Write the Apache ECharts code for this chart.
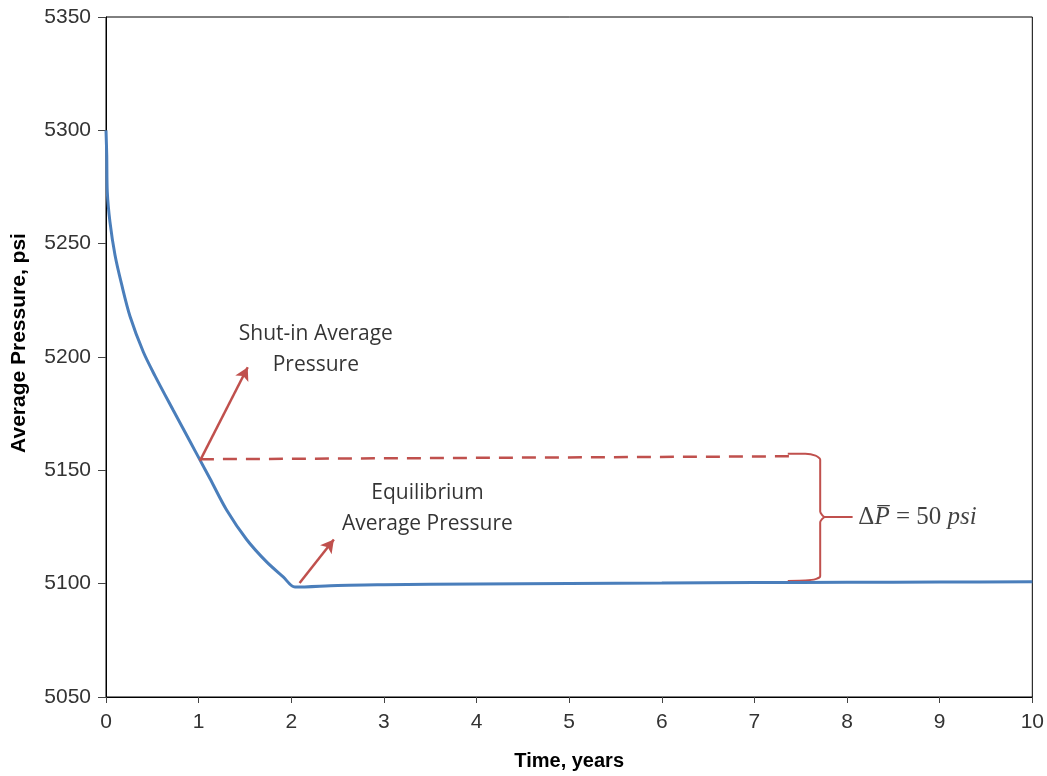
<!DOCTYPE html>
<html>
<head>
<meta charset="utf-8">
<script src="https://cdn.jsdelivr.net/npm/echarts@6/dist/echarts.min.js"></script>
<style>
  html, body { margin: 0; padding: 0; background: #fff; }
  #chart { width: 1047px; height: 776px; }
</style>
</head>
<body>
<div id="chart"></div>
<script>
// Average reservoir pressure over time
const timeYears = [0, 0.008, 0.014, 0.043, 0.097, 0.169, 0.259, 0.402, 0.529, 0.726, 0.906, 1.014, 1.122, 1.302, 1.518, 1.734, 1.913, 2.04, 2.5, 3, 4, 5, 6, 7, 8, 9, 10];
const avgPressure = [5300, 5289, 5272.8, 5259.5, 5245, 5232, 5218, 5202.3, 5191.7, 5176.5, 5162.8, 5154.6, 5146.4, 5132.5, 5119.5, 5109.6, 5103, 5098.5, 5099.2, 5099.5, 5099.9, 5100.1, 5100.3, 5100.5, 5100.6, 5100.7, 5100.8];

// Axis ranges / ticks
const yTicks = [5050, 5100, 5150, 5200, 5250, 5300, 5350];
const xTicks = [0, 1, 2, 3, 4, 5, 6, 7, 8, 9, 10];

// Shut-in level (dashed reference)
const shutInLevel = { from: [1.014, 5154.9], to: [7.4, 5156.2] };

// Brace spanning shut-in to equilibrium pressure
const braceTime =     [7.36, 7.55, 7.66, 7.71, 7.71, 7.76, 8.06, 7.76, 7.71, 7.71, 7.66, 7.55, 7.36];
const bracePressure = [5157.3, 5157.3, 5156.5, 5154.8, 5131.8, 5129.4, 5129.4, 5129.4, 5127.0, 5103.3, 5102.0, 5101.4, 5101.2];

// Arrows: [start, end] in (years, psi)
const arrows = [
  [[1.014, 5154.2], [1.53, 5195.5]],
  [[2.09, 5100.3], [2.46, 5119.5]]
];

// Annotation texts and their anchor points
const noteText = ['Shut-in Average\nPressure', 'Equilibrium\nAverage Pressure'];
const noteTime = [2.265, 3.47];
const notePressure = [5203.5, 5133];
const deltaLabelAt = [8.1, 5129.4];

const red = '#c0504d';
const blue = '#4a7ebb';

const chart = echarts.init(document.getElementById('chart'));

chart.setOption({
  animation: false,
  backgroundColor: '#ffffff',
  grid: {
    left: 106, right: 14, top: 17, bottom: 79,
    show: true, borderColor: '#000', borderWidth: 1
  },
  xAxis: {
    type: 'value',
    min: xTicks[0], max: xTicks[xTicks.length - 1], interval: 1,
    name: 'Time, years',
    nameLocation: 'middle',
    nameGap: 54,
    nameTextStyle: { fontFamily: 'Liberation Sans', fontWeight: 'bold', fontSize: 20, color: '#000' },
    axisLine: { show: true, onZero: false, lineStyle: { color: '#000', width: 1 } },
    axisTick: { show: true, length: 6, lineStyle: { color: '#444' } },
    axisLabel: { fontFamily: 'Liberation Sans Narrow, Liberation Sans', fontSize: 21, color: '#333', margin: 15 },
    splitLine: { show: false }
  },
  yAxis: {
    type: 'value',
    min: yTicks[0], max: yTicks[yTicks.length - 1], interval: 50,
    name: 'Average Pressure, psi',
    nameLocation: 'middle',
    nameGap: 76,
    nameTextStyle: {
      fontFamily: 'Liberation Sans', fontWeight: 'bold', fontSize: 21, color: '#000',
      padding: [0, 0, 0, 28]
    },
    axisLine: { show: true, lineStyle: { color: '#000', width: 1 } },
    axisTick: { show: true, length: 8, lineStyle: { color: '#444' } },
    axisLabel: {
      fontFamily: 'Liberation Sans', fontSize: 21, color: '#333', margin: 15,
      formatter: v => String(v)
    },
    splitLine: { show: false }
  },
  series: [
    {
      name: 'Average Pressure',
      type: 'line',
      data: timeYears.map((t, i) => [t, avgPressure[i]]),
      showSymbol: false,
      smooth: 0.3,
      lineStyle: { color: blue, width: 3 },
      z: 3
    },
    {
      name: 'Shut-in level',
      type: 'line',
      data: [shutInLevel.from, shutInLevel.to],
      showSymbol: false,
      lineStyle: { color: red, width: 2.5, type: [14, 9] },
      z: 2
    },
    {
      name: 'Brace',
      type: 'line',
      data: braceTime.map((t, i) => [t, bracePressure[i]]),
      showSymbol: false,
      smooth: 0.2,
      lineStyle: { color: red, width: 2 },
      z: 2,
      markLine: {
        silent: true,
        symbol: ['none', 'arrow'],
        symbolSize: [11, 13],
        label: { show: false },
        lineStyle: { color: red, width: 2.5, type: 'solid' },
        data: arrows.map(a => [{ coord: a[0] }, { coord: a[1] }])
      }
    },
    {
      name: 'Notes',
      type: 'scatter',
      symbolSize: 0,
      silent: true,
      z: 5,
      data: noteText.map((txt, i) => ({
        value: [noteTime[i], notePressure[i]],
        label: {
          show: true, position: 'inside', formatter: txt,
          fontFamily: 'Open Sans', fontSize: 21, lineHeight: 31, color: '#000', align: 'center'
        }
      })).concat([{
        value: deltaLabelAt,
        label: {
          show: true, position: 'right', distance: 2,
          formatter: '{u|Δ}{i|P\u0305}{u| = 50 }{i|psi}',
          rich: {
            u: { fontFamily: 'Liberation Serif', fontSize: 25, color: '#111' },
            i: { fontFamily: 'Liberation Serif', fontStyle: 'italic', fontSize: 25, color: '#111' }
          }
        }
      }])
    }
  ]
});
</script>
</body>
</html>
